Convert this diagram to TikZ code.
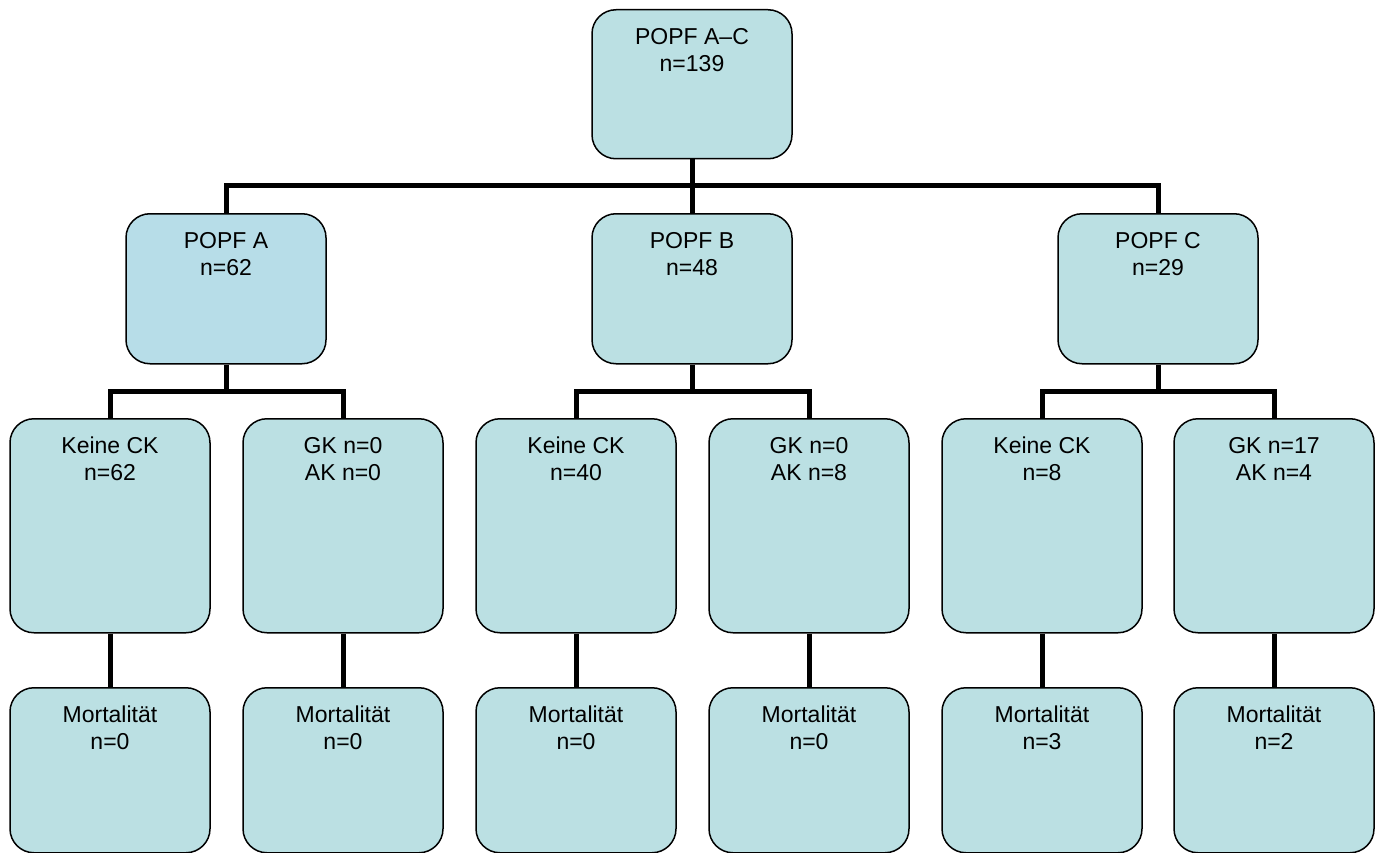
\documentclass[tikz,border=0pt]{standalone}
\usepackage{fontspec}
\setmainfont{Liberation Sans}
\definecolor{boxfill}{HTML}{BBE0E3}
\definecolor{boxfillA}{HTML}{B7DDE8}
\newcommand{\boxtext}[3]{\parbox[t][#1pt][t]{200pt}{\centering\fontsize{23}{27}\selectfont\rule{0pt}{35pt}#2\\#3}}
\begin{document}
\begin{tikzpicture}[x=1pt,y=-1pt,
  bx/.style={draw=black, line width=1.5pt, fill=boxfill, rounded corners=24pt, inner sep=0pt, anchor=north},
  conn/.style={line width=5pt, black}]
\useasboundingbox (0,0) rectangle (1383,853);
% level 0
\node[bx] (top) at (692,9) {\boxtext{149}{POPF A--C}{n=139}};
% level 1
\node[bx, fill=boxfillA] (a) at (226,213) {\boxtext{150}{POPF A}{n=62}};
\node[bx] (b) at (692,213) {\boxtext{150}{POPF B}{n=48}};
\node[bx] (c) at (1158,213) {\boxtext{150}{POPF C}{n=29}};
% level 2
\node[bx] (a1) at (110,418) {\boxtext{214}{Keine CK}{n=62}};
\node[bx] (a2) at (343,418) {\boxtext{214}{GK n=0}{AK n=0}};
\node[bx] (b1) at (576,418) {\boxtext{214}{Keine CK}{n=40}};
\node[bx] (b2) at (809,418) {\boxtext{214}{GK n=0}{AK n=8}};
\node[bx] (c1) at (1042,418) {\boxtext{214}{Keine CK}{n=8}};
\node[bx] (c2) at (1274,418) {\boxtext{214}{GK n=17}{AK n=4}};
% level 3
\node[bx] (a1m) at (110,687) {\boxtext{165}{Mortalität}{n=0}};
\node[bx] (a2m) at (343,687) {\boxtext{165}{Mortalität}{n=0}};
\node[bx] (b1m) at (576,687) {\boxtext{165}{Mortalität}{n=0}};
\node[bx] (b2m) at (809,687) {\boxtext{165}{Mortalität}{n=0}};
\node[bx] (c1m) at (1042,687) {\boxtext{165}{Mortalität}{n=3}};
\node[bx] (c2m) at (1274,687) {\boxtext{165}{Mortalität}{n=2}};
% junctions
\coordinate (j0) at (692,186);
\coordinate (ja) at (226,391);
\coordinate (jb) at (692,391);
\coordinate (jc) at (1158,391);
% connectors
\draw[conn] (top.south) -- (j0);
\draw[conn] (a.north) |- (j0) -| (c.north);
\draw[conn] (j0) -- (b.north);
\foreach \p/\l/\r/\j in {a/a1/a2/ja, b/b1/b2/jb, c/c1/c2/jc}{
  \draw[conn] (\p.south) -- (\j);
  \draw[conn] (\l.north) |- (\j) -| (\r.north);
}
\foreach \u in {a1,a2,b1,b2,c1,c2}{
  \draw[conn] (\u.south) -- (\u m.north);
}
% redraw boxes over connector ends
\end{tikzpicture}
\end{document}
